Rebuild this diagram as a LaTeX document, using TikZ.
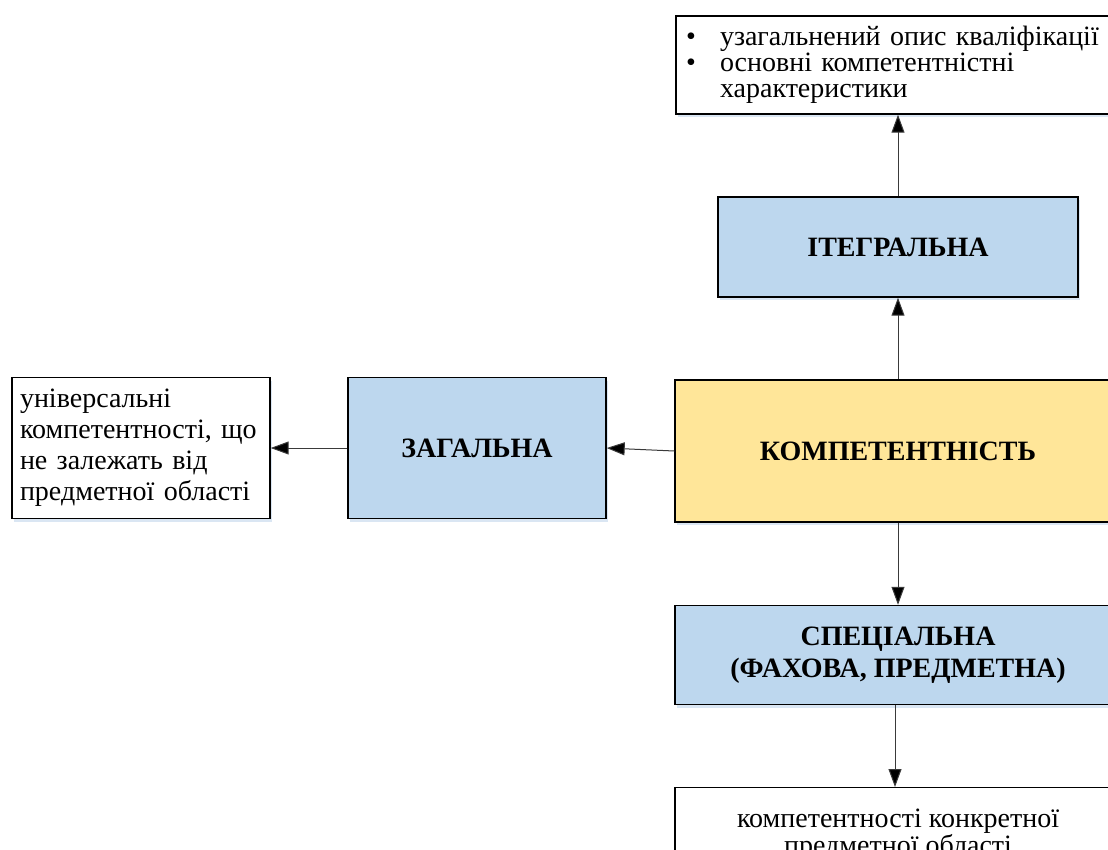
\documentclass[tikz,border=0pt]{standalone}
\usepackage{fontspec}
\setmainfont{Liberation Serif}
\usetikzlibrary{arrows.meta,shadows}
\definecolor{boxblue}{HTML}{BDD7EE}
\definecolor{boxyellow}{HTML}{FFE699}
\definecolor{shadowblue}{HTML}{D6E4F2}
\definecolor{linkgray}{HTML}{3A3A3A}
\begin{document}
\begin{tikzpicture}[x=1pt,y=-1pt,
  box/.style={draw=black, line width=1.4pt, rectangle, inner sep=0pt,
    drop shadow={fill=shadowblue, opacity=0.9, shadow xshift=2pt, shadow yshift=-3pt}},
  bluebox/.style={box, fill=boxblue, font=\bfseries\fontsize{28}{32}\selectfont, align=center},
  notebox/.style={box, fill=white},
  link/.style={draw=linkgray, line width=1pt, -{Triangle[length=18pt,width=13pt,fill=black]}}
]
\clip (0,0) rectangle (1108,849);
\fill[white] (0,0) rectangle (1108,849);

% central concept
\node[box, fill=boxyellow, minimum width=446, minimum height=142,
      font=\bfseries\fontsize{28}{32}\selectfont] (core) at (898,451) {КОМПЕТЕНТНІСТЬ};

% three kinds of competence
\node[bluebox, minimum width=360, minimum height=100] (integ) at (898,247) {ІТЕГРАЛЬНА};
\node[bluebox, minimum width=258, minimum height=141] (general) at (477,448) {ЗАГАЛЬНА};
\node[bluebox, minimum width=446, minimum height=99] (special) at (898,655)
  {СПЕЦІАЛЬНА\\(ФАХОВА, ПРЕДМЕТНА)};

% descriptions
\node[notebox, minimum width=444, minimum height=98, text width=424, align=left,
      font=\fontsize{28}{26}\selectfont] (integnote) at (898,65)
  {\makebox[34pt][l]{\textbullet}узагальнений опис кваліфікації\\
   \makebox[34pt][l]{\textbullet}основні компетентністні\\
   \hspace*{34pt}характеристики};
\node[notebox, minimum width=258, minimum height=141, text width=242, align=left,
      font=\fontsize{28}{31}\selectfont] (generalnote) at (141,448)
  {універсальні\\компетентності, що\\не залежать від\\предметної області};
\node[notebox, minimum width=446, align=center,
      font=\fontsize{28}{27}\selectfont, anchor=north] (specialnote) at (898,787)
  {\rule{0pt}{40pt}компетентності конкретної\\предметної області\rule[-50pt]{0pt}{50pt}};

% connectors
\draw[link] (core.north) -- (integ.south);
\draw[link] (integ.north) -- (integnote.south);
\draw[link] (core.west) -- (general.east);
\draw[link] (general.west) -- (generalnote.east);
\draw[link] (core.south) -- (special.north);
\draw[link] ([xshift=-3pt]special.south) -- ([xshift=-3pt]specialnote.north);
\end{tikzpicture}
\end{document}
